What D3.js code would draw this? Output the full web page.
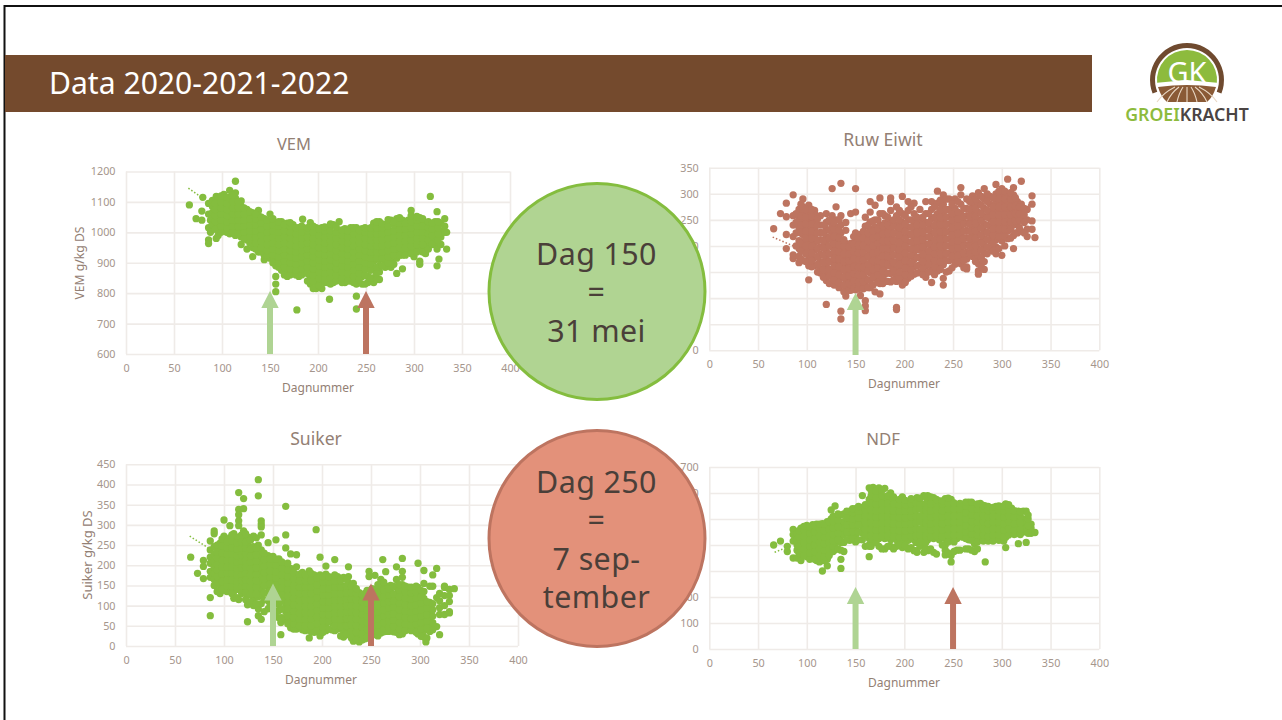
<!DOCTYPE html>
<html><head><meta charset="utf-8">
<script src="https://cdnjs.cloudflare.com/ajax/libs/d3/7.8.5/d3.min.js"></script>
<style>html,body{margin:0;padding:0;background:#fff;overflow:hidden}svg{display:block}text{font-family:"Noto Sans",sans-serif}</style>
</head><body><svg id="s" width="1282" height="720"></svg>
<script>
// Values: each row = [day, value, value, ...]
const xTicks=[0,50,100,150,200,250,300,350,400];
const vemTicks=[600,700,800,900,1000,1100,1200];
const eiwitTicks=[0,50,100,150,200,250,300,350];
const suikerTicks=[0,50,100,150,200,250,300,350,400,450];
const ndfTicks=[0,100,200,300,400,500,600,700];
const slideTitle="Data 2020-2021-2022";
const arrowDays=[150,250];

const vemRows=[
[66,1090],[73,1045],[79,1070,1040],[80,1115],[86,1015,975,963,1095,1060],[88,1000,1040],[94,980,1118,1075],
[90,1025,1045,1065,1085,1105],[96,990,1010,1030,1050,1070,1090,1110],
[102,1005,1025,1045,1065,1085,1105,1125],[108,995,1015,1035,1055,1075,1095,1115,1138],
[114,990,1010,1030,1050,1070,1090,1112,1130,1168],[120,985,1005,1025,1045,1065,1085,1103,960],
[126,975,995,1015,1035,1055,1075,945],[132,950,970,990,1010,1030,1050,1065,920],
[138,935,955,975,995,1015,1035,1055,1072],[144,910,925,945,965,985,1005,1025,1045],
[150,915,935,955,975,995,1015,1035,1060],[156,890,910,930,950,970,990,1010,1030,855,830,805],
[162,875,895,915,935,955,975,995,1015,1035],[168,855,875,895,915,935,955,975,995,1015,1030],
[174,865,885,905,925,945,965,985,1005,1025],[178,745],[180,855,875,895,915,935,955,975,995,1015],
[184,1043],[186,870,890,910,930,950,970,990,1010],[192,830,850,870,890,910,930,950,970,990,1010,1032],
[198,815,835,855,875,895,915,935,955,975,995,1015],[204,815,840,860,880,900,920,940,960,980,1000,1015],
[210,835,855,875,895,915,935,955,975,995,1012],[212,780],[216,835,855,875,895,915,935,955,975,995,1025],
[222,845,865,885,905,925,945,965,985,1005,1035],[228,835,855,875,895,915,935,955,975,995,1012],
[234,840,860,880,900,920,940,960,980,1000,1015],[240,830,850,870,890,910,930,950,970,990,1015,790,748],
[246,830,855,875,895,915,935,955,975,995,1012],[252,835,855,880,900,925,945,965,985,1005],
[258,835,850,880,905,925,945,965,985,1005,1030],[264,845,870,890,910,930,950,970,990,1010,1035],
[270,885,905,925,945,965,985,1005,1025],[276,885,905,925,945,965,985,1005,1040],
[282,865,915,935,955,975,995,1015,1045],[288,880,925,945,965,985,1005,1025,1040],
[294,940,960,980,1000,1020,1040],[297,1072,1045],[300,920,945,965,985,1005,1025],
[306,895,905,950,970,990,1010,1030,1048],[312,930,950,970,990,1010,1030],
[317,1118,965,985,1005,1025],[322,960,980,1000,1020,1035],[324,1068,945,890],
[328,960,985,1005,1030],[332,1045,1000,1020],[334,945,1000],[326,912],
[93,1010,1035,1055,1075,1095],[99,1000,1020,1040,1060,1080,1100,1120],[105,1000,1015,1035,1055,1075,1095,1115],
[111,1000,1020,1040,1060,1080,1100,1122],[117,995,1020,1040,1060,1080,1100],[123,980,1000,1020,1040,1060,1080],
[129,965,985,1005,1025,1045,1068],[135,945,965,985,1005,1025,1045,1060],[141,935,950,970,990,1010,1030,1050],
[147,925,940,960,980,1000,1020,1040],[153,900,925,945,965,985,1005,1025,1045],[159,885,900,920,940,960,980,1000,1020,1035],
[165,860,885,905,925,945,965,985,1005,1025],[171,860,880,900,920,940,960,980,1000,1020,1032],[177,860,875,895,915,935,955,975,995,1015],
[183,860,880,900,920,940,960,980,1000,1020],[189,840,865,885,905,925,945,965,985,1005,1015],[195,815,840,860,880,900,920,940,960,980,1000,1020],
[201,825,850,870,890,910,930,950,970,990,1010],[207,835,845,865,885,905,925,945,965,985,1005,1018],[213,830,850,870,890,910,930,950,970,990,1005,1028],
[219,840,860,880,900,920,940,960,980,1000,1018],[225,835,850,870,890,910,930,950,970,990,1008],[231,840,865,885,905,925,945,965,985,1005],
[237,835,855,875,895,915,935,955,975,995,1015],[243,845,865,885,905,925,945,965,985,1005],[249,830,860,880,900,920,940,960,980,1000,1015],
[255,850,875,895,915,935,955,975,995,1015],[261,845,865,885,915,935,955,975,995,1015,1035],[267,890,915,935,955,975,995,1015,1028],
[273,900,920,940,960,980,1000,1020,1042],[279,895,925,945,965,985,1005,1025,1035],[285,925,950,970,990,1010,1030,1048],
[291,925,950,970,990,1010,1030],[297,930,955,975,995,1015,1035,1055],[303,935,960,980,1000,1020,1040,1052],
[309,935,960,980,1000,1020,1045],[315,945,975,995,1015,1035],[319,960,990,1010,1030],[325,975,995,1015,1035]
];
const eiwitRows=[
[66,233],[73,262],[79,282,222,195,256],[86,298,258,240,218,176,183],[92,168,180,195,210,235,252,270],
[96,290,275,262,248,235,222,208,195,172],[102,278,265,250,236,222,208,194,180,135,162],
[108,262,248,234,220,206,192,178,162,268],[114,258,240,226,212,198,184,170,156,148],
[120,262,245,232,218,205,190,176,162,148,134,88],[126,310,258,240,226,212,198,184,170,156,142,130],
[130,275,250,236,222,208,194,180,166,152,138,126],
[135,320,258,240,225,210,196,182,168,154,140,125,75,60],[140,245,230,205,190,176,162,148,134,118,104],
[145,262,205,192,178,164,150,136,122,115],[150,310,265,225,210,196,182,168,154,140,126,116],
[155,222,208,194,180,166,152,138,124,105],[160,255,238,222,208,194,180,166,152,138,124,95,85,76],
[165,285,265,246,232,218,204,190,176,162,148,134,120],[170,278,250,236,222,208,194,180,166,152,138,112],
[175,292,262,240,226,212,198,184,170,156,142,128,108],[180,258,244,230,216,202,188,174,160,146,132],
[186,292,285,268,245,231,217,203,189,175,161,147,131],[192,275,258,240,226,212,198,184,170,156,142,132,82,78],
[198,295,262,245,231,217,203,189,175,161,147,125,134],[204,285,268,250,236,222,208,194,180,166,152,138],
[210,282,262,244,230,216,202,188,174,160,146],[216,270,248,234,220,206,192,178,164,150],
[222,285,262,245,231,217,203,189,175,161,147,140],[228,285,270,252,238,224,210,196,182,168,154,130],
[234,305,282,262,248,234,220,206,192,178,164,152],[240,298,280,262,248,234,220,206,192,178,164,138,125],
[246,290,270,256,242,228,214,200,186,172,152],[252,290,272,258,244,230,216,202,188,174,165],
[258,312,298,280,262,248,234,220,206,192,178,166],[264,290,272,258,244,230,216,202,188,175,160,156],
[270,296,280,264,250,236,222,208,194,180],[276,302,282,265,250,236,222,208,194,180,166,152,146],
[282,310,290,272,256,242,228,214,200,186,170,155],[288,295,280,266,252,238,224,210,196],
[294,318,300,284,268,254,240,226,212,198,185],[300,310,296,280,266,252,238,224,210,182],
[306,328,300,284,270,256,242,228,214],[312,312,298,282,268,254,240,220,195],
[316,285,272,258,244,225],[320,324,280,266,252,228],[326,270,250,232,218],[331,296,280,248,232],[334,216],
[89,200,225,245,262],[94,175,190,205,225,240,258,280],[99,170,185,200,215,228,242,255,270],
[105,160,172,186,200,214,228,242,256,270],[111,150,165,180,195,210,225,240,252],[117,140,155,168,182,196,210,225,240],
[123,128,142,155,170,185,200,215,230,250],[128,125,135,148,162,176,190,204,218,232,245],[133,120,130,145,160,175,188,202,216,230,250],
[138,112,125,140,155,170,185,200,212],[143,115,128,143,157,171,185,198],[148,118,133,147,160,175,190,203,218],
[153,118,130,145,159,173,187,201,215],[158,118,132,145,159,173,187,201,215,228],[163,120,135,152,165,180,195,210,225,240],
[168,125,140,155,172,186,200,215,228,248],[173,130,145,158,172,188,205,218,232,250],[178,128,138,152,167,181,195,209,223,238,262],
[183,132,148,165,180,195,210,225,240,255],[189,135,152,168,182,196,210,224,238,250],[195,138,150,165,180,193,207,221,235,250,268],
[201,130,145,158,172,186,200,214,228,242,258],[207,142,155,168,182,195,208,222,236,250,275],[213,148,162,178,195,210,225,240,255],
[219,145,158,170,184,198,212,226,240,255],[225,150,165,178,190,204,218,232,245,262],[231,145,160,172,185,198,212,226,240,255,275],
[237,155,170,185,200,213,227,241,255,270,288],[243,150,172,185,200,213,227,241,255,270,290],[249,158,180,195,207,221,235,250,262,280],
[255,172,182,196,210,224,238,252,265,285],[261,158,172,186,200,214,228,242,256,272],[267,185,200,214,228,242,256,270,285],
[273,170,188,200,215,229,243,257,272,290],[279,160,178,192,206,220,234,248,262,278,295],[285,185,198,212,226,240,255,268,285,300],
[291,190,205,220,232,246,260,275,292],[297,195,218,232,246,260,275,290,305],[303,200,218,232,246,260,275,290,305],
[309,215,232,246,260,275,290,302],[314,225,248,262,276,292],[318,235,250,262,275],[323,225,245,260,272]
];
const suikerRows=[
[66,220],[73,180],[79,212,197,167],[86,75,120,260,238,220,205,185,170],[90,278,285,150,165,180,195,210,228,246],
[96,130,150,168,186,204,222,240,255],[100,312,138,155,172,190,207,225,242,262,272],
[106,298,140,156,172,188,204,220,236,252,268],[110,118,135,150,166,182,198,214,230,246,262,278],
[115,380,338,325,310,298,115,140,156,172,188,204,220,236,252,270],[120,365,340,135,152,168,184,200,216,232,248,264,285],
[124,60,102,125,140,156,172,188,204,220,236,252,270],[130,100,118,134,150,166,182,198,214,230,246,272],
[135,412,372,75,92,122,138,154,170,186,202,218,234,250],[138,310,302,295,275,66,105,125,142,158,174,190,206,222,238],
[145,256,92,112,130,146,162,178,194,210,224],[150,95,112,128,144,160,176,192,208,222],
[153,263],[156,70,88,105,122,138,154,170,186,202,216],[158,28,58],[163,346,275,243,65,85,102,118,134,150,166,182,198],
[168,228,45,62,78,94,110,126,142,158,174,192],[174,42,60,76,92,108,124,140,156,172,226,196],
[180,40,56,72,88,104,120,136,152,168,182],[187,20,42,58,74,90,106,122,138,154,172,186],
[192,34,50,66,82,98,114,130,146,162,176],[194,288],[198,30,25,48,64,80,96,112,128,144,160,176,220],
[204,38,54,70,86,102,118,134,150,166,198,178],[210,40,58,74,90,106,122,138,154,170],[213,214],
[216,42,60,76,92,108,124,140,156,172],[222,22,36,52,68,84,100,116,132,148,170],
[227,196,172,28,44,60,76,92,108,124,140,156],[232,12,28,44,60,76,92,108,124,140,155],
[238,10,24,40,56,72,88,104,120,132],[244,18,34,50,66,82,98,114,130],[248,185,172,20,38,54,70,86,102,118,134],
[254,28,44,60,76,92,108,124,140,175],[260,32,48,64,80,96,112,128,144,165],[262,214],[265,184,36,52,68,84,100,116,132,148],
[270,38,54,70,86,102,118,134,150],[276,196,165,34,50,66,82,98,114,130,146],[282,217,185,170,152,30,46,62,78,94,110,126,142],
[288,42,58,74,90,106,122,138,146],[294,46,62,78,94,110,126,142],[298,205,30,48,64,80,96,112,128,145],
[304,187,155,135,22,38,54,70,86,102,118],[306,10],[310,36,52,68,84,100,108,148],[313,176,148],[317,192,48,120],
[320,28,78,95,112,130],[325,78,100,125,145,148],[330,82,85,110,125,140],[335,142],
[93,135,158,172,188,202,218,232,250],[98,140,160,178,195,212,230,248,265],[103,135,148,164,180,196,212,228,244,258],
[108,130,148,164,180,196,212,228,244,260,275],[113,120,145,160,176,192,208,224,240,256],[118,130,148,162,178,194,210,226,242,258,275],
[122,115,132,148,164,180,196,212,228,244,258,278],[127,108,128,145,160,176,192,208,224,240,262],[133,105,128,145,162,178,194,210,226,242,268],
[141,85,115,132,150,166,182,198,214,230],[147,100,120,138,154,170,186,202,216],[153,85,105,120,136,152,168,184,200,215],
[159,70,92,112,128,144,160,176,192,208],[165,55,75,92,108,124,140,156,172,188,205],[171,42,55,70,86,102,118,134,150,166,182],
[177,50,66,82,98,114,130,146,162,178],[183,38,50,66,82,98,114,130,146,162,176],[189,35,50,66,82,98,114,130,146,162,180],
[195,38,56,72,88,104,120,136,152,168],[201,34,46,62,78,94,110,126,142,158,172],[207,42,62,78,94,110,126,142,158,172],
[213,38,50,66,82,98,114,130,146,162,176],[219,25,48,66,82,98,114,130,146,162],[225,30,50,68,84,100,116,132,148,165],
[230,20,36,52,68,84,100,116,132,148],[235,15,34,50,66,82,98,114,130,142],[241,15,30,46,62,78,94,110,126,128],
[246,22,42,58,74,90,106,122,138],[251,30,46,62,78,94,110,126,142],[257,25,36,52,68,84,100,116,132,152],
[263,35,42,58,74,90,106,122,138,158],[268,36,46,62,78,94,110,126,142],[273,35,48,64,80,96,112,128,148],
[279,28,42,58,74,90,106,122,138,152],[285,38,54,70,86,102,118,134,148],[291,38,52,68,84,100,116,132,146],
[296,34,54,70,86,102,118,134,148],[301,24,42,58,74,90,106,122,138],[307,20,45,62,78,94,110],[313,40,58,74,90,105]
];
const ndfRows=[
[66,400],[73,415],[80,375,395],[86,460,440,350,415],[90,350,380,400,420,445],[94,340,365,390,415,440,465],
[100,355,375,400,425,450,475],[106,362,385,410,435,460,478],[110,340,370,395,420,445,470,480],
[116,300,340,365,390,415,440,465,482],[121,320,345,375,400,425,450,478,490],[125,535,375,400,425,450,475,500],
[129,550,382,405,430,455,480,505],[135,345,310,380,410,435,460,485,515],[138,375,410,440,465,490,520],
[144,418,442,466,490,514,530],[150,412,438,462,486,510,535,540],[157,590,420,445,470,495,520,545],
[164,355,400,395,425,450,475,500,525,550,575,620],[168,420,445,470,495,520,545,570,595,622],
[174,395,425,450,475,500,525,550,575,600,620],[180,385,425,450,475,500,525,550,575,618],
[186,395,420,445,470,495,520,545,575,600],[192,395,420,445,470,495,520,545,570],
[198,390,418,442,466,490,514,538,562,580,585],[204,385,418,442,466,490,514,538,565],
[210,378,420,445,470,495,520,545,570],[213,372,582,425],[220,372,400,425,450,475,500,525,550,590],
[224,378,420,445,470,495,520,545,570,590],[230,372,425,450,475,500,525,550,575,582],
[236,420,445,470,495,520,545,570],[242,380,362,400,425,450,475,500,525,550,578],[248,335,360,425,450,475,500,525,550,575],
[254,380,425,450,475,500,525,550],[260,430,455,480,505,530,555],[266,385,420,445,470,495,520,545,565],
[272,375,405,430,455,480,505,530,555],[278,420,445,470,495,520,545,560],[283,335,425,450,475,500,525,550],
[288,420,445,470,495,520,540],[294,425,450,475,500,525,548],[300,420,445,470,495,520,545],
[304,390,430,455,480,505,530,558],[310,445,470,495,520,542],[317,405,445,470,495,520,530],
[322,450,475,500,530],[325,410,465,490,530],[330,445,465,480],[334,448],
[92,370,395,430,455],[97,360,385,410,435,460,472],[103,345,370,395,420,445,470],[108,345,375,400,425,450,475],
[113,335,360,385,410,435,460,480],[118,340,355,380,405,430,455,480],[123,360,385,410,435,460,490],[127,375,395,415,440,465,490,510],
[132,385,420,445,470,495,520],[141,420,450,478,505,530],[147,425,452,478,500,525,540],[153,420,450,478,505,530,548],
[160,395,435,460,485,510,535,555],[166,395,435,460,485,510,535,560,590,610],[171,410,432,458,482,508,532,558,582,608],
[177,385,435,460,485,510,535,560,590,610],[183,395,435,460,485,510,535,560,590],[189,385,432,458,482,508,532,558,585],
[195,400,430,455,480,505,530,555,575],[201,398,430,455,480,505,530,555,572],[207,390,432,458,482,508,532,558,578],
[212,378,410,435,460,485,510,535,560],[216,395,412,438,462,488,512,538,562,580],[222,385,410,435,460,485,510,535,560,585],
[227,385,432,458,482,508,532,558,585],[233,365,435,460,485,510,535,560,575],[239,400,432,458,482,508,532,558,570],
[245,370,412,438,462,488,512,538,562,580],[251,375,412,438,462,488,512,538,562],[257,380,438,462,488,512,538,560],
[263,385,425,450,475,500,525,550,565],[269,380,418,442,466,490,515,540,565],[275,385,412,438,462,488,512,538,558],
[281,415,438,462,488,512,538,552],[286,415,432,458,482,508,532,548],[291,415,438,462,488,512,535,545],
[297,418,438,462,488,512,535,550],[302,415,432,458,482,508,532,550],[307,438,462,488,512,535,555],
[313,440,458,482,508,532],[319,440,460,485,510,528],[327,445,475,500,515]
];
const vemTrend=[[65,1145],[80,1112]];
const eiwitTrend=[[65,217],[90,197]];
const eiwitTrendEnd=[[320,262],[332,288]];
const suikerTrend=[[65,272],[84,243]];
const ndfTrend=[[67,372],[75,384]];

const C={green:"#84BD3E",red:"#BD7460",lgreen:"#AFD493",grid:"#EFEBE8",tick:"#A5968C",title:"#938074"};
const svg=d3.select("#s");
svg.append("rect").attr("width",1282).attr("height",720).attr("fill","#fff");
svg.append("path").attr("d","M1282,6H4.5V720").attr("fill","none").attr("stroke","#111").attr("stroke-width",2);
svg.append("rect").attr("x",5).attr("y",55).attr("width",1087).attr("height",57).attr("fill","#744A2D");
svg.append("text").attr("x",49).attr("y",94).attr("font-size",30.1).attr("fill","#fff").text(slideTitle);

function chart(o){
  const x=d3.scaleLinear().domain([0,400]).range([o.l,o.r]);
  const y=d3.scaleLinear().domain(o.dom).range([o.b,o.t]);
  const g=svg.append("g");
  const gx=g.append("g").attr("transform",`translate(0,${o.b})`)
    .call(d3.axisBottom(x).tickValues(xTicks).tickSize(o.t-o.b).tickFormat(d3.format("d")));
  const gy=g.append("g").attr("transform",`translate(${o.l},0)`)
    .call(d3.axisLeft(y).tickValues(o.ticks).tickSize(o.l-o.r).tickFormat(d3.format("d")));
  gy.selectAll("text").attr("x",-10.5);
  gx.selectAll("text").attr("y",10).attr("dy","0.71em");
  [gx,gy].forEach(a=>{a.select(".domain").remove();
    a.selectAll("line").attr("stroke",C.grid).attr("stroke-width",1.6);
    a.selectAll("text").attr("fill",C.tick).attr("font-size",10.8).attr("font-family",'"Noto Sans",sans-serif');});
  const pts=o.rows.flatMap(r=>r.slice(1).map(v=>[r[0],v]));
  o.trends.forEach(t=>g.append("path").attr("d",d3.line().x(d=>x(d[0])).y(d=>y(d[1]))(t))
    .attr("fill","none").attr("stroke",o.color).attr("stroke-width",1.5).attr("stroke-dasharray","1.5 2"));
  g.append("g").selectAll("circle").data(pts).join("circle")
    .attr("cx",d=>x(d[0])).attr("cy",d=>y(d[1])).attr("r",3.65).attr("fill",o.color);
  g.append("text").attr("x",o.tx).attr("y",o.ty).attr("text-anchor","middle").attr("font-size",o.fs).attr("fill",C.title).text(o.title);
  g.append("text").attr("x",o.xl).attr("y",o.xly).attr("text-anchor","middle").attr("font-size",12).attr("fill",C.title).text("Dagnummer");
  if(o.yLabel) g.append("text").attr("transform",`translate(${o.ylx},${o.yly}) rotate(-90)`).attr("text-anchor","middle").attr("font-size",o.yfs).attr("fill",C.title).text(o.yLabel);
  o.arrows.forEach(a=>{
    const cx=x(a.d),w=3,h=8.7;
    g.append("path").attr("d",`M${cx-w},${a.bottom}V${a.tip+17}H${cx-h}L${cx},${a.tip}L${cx+h},${a.tip+17}H${cx+w}V${a.bottom}Z`).attr("fill",a.c);
  });
}
chart({title:"VEM",fs:16.5,tx:294,ty:150,l:126,r:510,t:171.5,b:354,dom:[600,1200],ticks:vemTicks,rows:vemRows,color:C.green,trends:[vemTrend],
  xl:318,xly:392,yLabel:"VEM g/kg DS",yfs:12.2,ylx:84,yly:263,
  arrows:[{d:arrowDays[0],c:C.lgreen,tip:291,bottom:354},{d:arrowDays[1],c:C.red,tip:291,bottom:354}]});
chart({title:"Ruw Eiwit",fs:17.6,tx:883,ty:146,l:709.3,r:1099.3,t:167.7,b:350.3,dom:[0,350],ticks:eiwitTicks,rows:eiwitRows,color:C.red,trends:[eiwitTrend,eiwitTrendEnd],
  xl:904,xly:388,
  arrows:[{d:arrowDays[0],c:C.lgreen,tip:293,bottom:355}]});
chart({title:"Suiker",fs:17.6,tx:316,ty:445,l:126,r:518,t:464.3,b:646,dom:[0,450],ticks:suikerTicks,rows:suikerRows,color:C.green,trends:[suikerTrend],
  xl:321,xly:684,yLabel:"Suiker g/kg DS",yfs:13,ylx:92,yly:555,
  arrows:[{d:arrowDays[0],c:C.lgreen,tip:583.5,bottom:646},{d:arrowDays[1],c:C.red,tip:583.5,bottom:646}]});
chart({title:"NDF",fs:16.8,tx:883,ty:445,l:709.3,r:1099.3,t:467,b:649,dom:[0,700],ticks:ndfTicks,rows:ndfRows,color:C.green,trends:[ndfTrend],
  xl:904,xly:687,
  arrows:[{d:arrowDays[0],c:C.lgreen,tip:587,bottom:649},{d:arrowDays[1],c:C.red,tip:587,bottom:649}]});

function bubble(cy,fill,stroke,lines,ys){
  svg.append("circle").attr("cx",597).attr("cy",cy).attr("r",108).attr("fill",fill).attr("stroke",stroke).attr("stroke-width",3);
  lines.forEach((t,i)=>svg.append("text").attr("x",596.5).attr("y",ys[i]).attr("text-anchor","middle").attr("font-size",30.4).attr("letter-spacing",0.4).attr("fill","#4A3F39").text(t));
}
bubble(291.5,"#B0D492","#84BD3E",["Dag 150","=","31 mei"],[265,303,342]);
bubble(538.5,"#E3917A","#BD7460",["Dag 250","=","7 sep-","tember"],[493,531,570,608]);

// logo
const L=svg.append("g");
L.append("path").attr("d",d3.arc()({innerRadius:32,outerRadius:37,startAngle:-Math.PI*0.62,endAngle:Math.PI*0.62})).attr("transform","translate(1187,80)").attr("fill","#6F4A2F");
L.append("path").attr("d",d3.arc()({innerRadius:0,outerRadius:30,startAngle:-Math.PI*0.53,endAngle:Math.PI*0.53})).attr("transform","translate(1187,80)").attr("fill","#8DBB3D");
L.append("path").attr("d","M1158,87Q1187,83 1216,87Q1213,97 1207,102H1167Q1161,97 1158,87Z").attr("fill","#8A5A36");
[-24,-16,-8,0,8,16,24].forEach(d=>L.append("path").attr("d",`M${1187+d*0.5},87Q${1187+d},93 ${1187+d*1.25},102`).attr("stroke","#E9D8C5").attr("stroke-width",1.1).attr("fill","none"));
L.append("text").attr("x",1187).attr("y",83).attr("text-anchor","middle").attr("font-size",29).attr("fill","#fff").text("GK");
const lt=L.append("text").attr("x",1187).attr("y",121).attr("text-anchor","middle").attr("font-size",17.7).attr("font-weight",600);
lt.append("tspan").attr("fill","#8DBB3D").text("GROEI");
lt.append("tspan").attr("fill","#4a4443").text("KRACHT");
</script></body></html>
